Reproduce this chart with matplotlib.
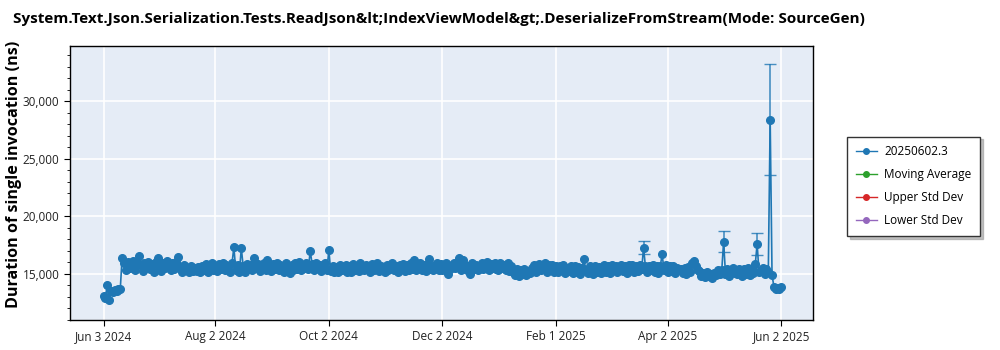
import pandas as pd
import matplotlib
matplotlib.use("Agg")
import matplotlib.pyplot as plt
import matplotlib.dates as mdates
from matplotlib.lines import Line2D
from matplotlib.ticker import MultipleLocator, FuncFormatter

plt.rcParams['font.family'] = ['Open Sans', 'DejaVu Sans']

title = "System.Text.Json.Serialization.Tests.ReadJson&lt;IndexViewModel&gt;.DeserializeFromStream(Mode: SourceGen)"
run_name = "20250602.3"

# one run per day, Jun 3 2024 .. Jun 2 2025
start_date = "2024-06-03"
durations = [
    13100, 12900, 14050, 12700, 13500, 13400, 13600, 13550, 13650, 13700,
    16400, 15900, 15350, 16050, 15500, 15850, 16100, 15300, 16000, 16550,
    15750, 15250, 15950, 15600, 16050, 15400, 15850, 15200, 16000, 16350,
    15600, 15250, 15950, 15500, 16100, 15700, 15300, 15900, 15450, 16050,
    16450, 15600, 15200, 15750, 15300, 15550, 15150, 15650, 15250, 15500,
    15250, 15600, 15150, 15700, 15350, 15850, 15200, 15650, 15900, 15300,
    15700, 15250, 15850, 15400, 15950, 15300, 15800, 15450, 15200, 15900,
    17320, 15350, 15800, 15200, 17230, 15650, 15150, 15850, 15400, 15750,
    15300, 16400, 15500, 15850, 15250, 15700, 15950, 15350, 16230, 15600,
    15250, 15850, 15400, 15950, 15300, 15800, 15550, 15200, 15900, 15450,
    15060, 15750, 15300, 15900, 15450, 16000, 15350, 15800, 15500, 15950,
    15400, 17020, 15850, 15300, 15950, 15500, 15800, 15250, 15700, 15900,
    15350, 17080, 15250, 15700, 15150, 15600, 15200, 15750, 15300, 15550,
    15800, 15200, 15650, 15150, 15850, 15350, 15700, 15250, 15900, 15400,
    15300, 15800, 15450, 15150, 15850, 15350, 15750, 15950, 15250, 15650,
    15450, 15150, 15800, 15300, 15700, 15900, 15350, 15650, 15200, 15800,
    15400, 15850, 15250, 15750, 15300, 15950, 15450, 16200, 15350, 15800,
    15900, 15300, 15750, 15250, 15850, 16300, 15400, 15300, 15800, 15950,
    15350, 15850, 15300, 15700, 15950, 14970, 15400, 15800, 15950, 15500,
    15850, 16400, 15350, 16200, 15750, 15300, 15700, 15000, 15900, 15450,
    15800, 15300, 15700, 15950, 15400, 15800, 16000, 15350, 15850, 15500,
    15900, 15450, 15300, 15950, 15500, 15800, 15350, 15900, 15250, 15700,
    15200, 14900, 15450, 14850, 15300, 14950, 15400, 14900, 15250, 15050,
    15500, 15750, 15200, 15650, 15850, 15300, 15700, 15900, 15150, 15750,
    15350, 15800, 15200, 15700, 15150, 15650, 15300, 15800, 15100, 15550,
    15250, 15700, 15050, 15650, 15200, 15600, 15000, 15550, 16270, 15300,
    15100, 15650, 15250, 14950, 15700, 15200, 15600, 15050, 15500, 15750,
    15200, 15650, 15100, 15800, 15300, 15700, 15150, 15600, 15750, 15250,
    15650, 15100, 15750, 15300, 15800, 15150, 15650, 15250, 15750, 15400,
    17280, 15650, 15200, 15700, 15300, 15800, 15200, 15650, 15100, 15700,
    16680, 15300, 15750, 15150, 15650, 15250, 15700, 15100, 15550, 15300,
    15450, 15050, 15550, 14950, 15600, 15150, 15900, 16150, 15700, 15300,
    15250, 14850, 15050, 14700, 15150, 14800, 15000, 14650, 15100, 14900,
    15350, 14950, 15300, 17800, 15000, 15450, 14850, 15350, 15500, 15050,
    14950, 15450, 15150, 14850, 15400, 15000, 15500, 14900, 15400, 15100,
    15840, 17600, 15150, 15350, 15500, 14950, 15450, 15200, 28380, 14900,
    13900, 13650, 13800, 13700, 13850,
]

# std dev of the runs that show visible error bars (day index -> std)
spread = {290: 575, 333: 925, 351: 925, 358: 4820}

tick_dates = ["2024-06-03", "2024-08-02", "2024-10-02", "2024-12-02",
              "2025-02-01", "2025-04-02", "2025-06-02"]
tick_labels = ["Jun 3 2024", "Aug 2 2024", "Oct 2 2024", "Dec 2 2024",
               "Feb 1 2025", "Apr 2 2025", "Jun 2 2025"]

dates = pd.date_range(start_date, periods=len(durations), freq="D")
blue = "#1f77b4"

fig = plt.figure(figsize=(10, 3.5), dpi=100)
ax = fig.add_axes([0.07, 0.086, 0.743, 0.783])
ax.set_facecolor("#e5ecf6")

ax.plot(dates, durations, color=blue, lw=1.2, marker="o", ms=5.5,
        mec=blue, mfc=blue, zorder=3)

err_idx = list(spread.keys())
ax.errorbar(dates[err_idx], [durations[i] for i in err_idx],
            yerr=[spread[i] for i in err_idx], fmt="none", ecolor=blue,
            elinewidth=1.2, capsize=4, capthick=1.0, alpha=0.8, zorder=2)

# empty series kept for the legend
ax.plot([], [], color="#2ca02c", lw=1, marker="o", ms=4)
ax.plot([], [], color="#d62728", lw=1, marker="o", ms=4)
ax.plot([], [], color="#9467bd", lw=1, marker="o", ms=4)

ax.set_ylim(11000, 34800)
ax.set_xlim(pd.Timestamp("2024-05-16"), pd.Timestamp("2025-06-19"))
ax.yaxis.set_major_locator(MultipleLocator(5000))
ax.yaxis.set_minor_locator(MultipleLocator(1000))
ax.yaxis.set_major_formatter(FuncFormatter(lambda v, p: f"{int(v):,}"))
ax.set_xticks([mdates.date2num(pd.Timestamp(d)) for d in tick_dates])
ax.set_xticklabels(tick_labels)

ax.grid(True, color="white", lw=1.2)
ax.set_axisbelow(True)
for s in ax.spines.values():
    s.set_color("black")
    s.set_linewidth(1.0)
ax.tick_params(axis="both", which="major", labelsize=8.5, length=4, color="black", labelcolor="#222222")
ax.tick_params(axis="y", which="minor", length=2.5, color="black")

fig.text(0.013, 0.947, title, fontsize=11, fontweight="bold", va="center", ha="left")
fig.text(0.014, 0.503, "Duration of single invocation (ns)", fontsize=11.6,
         fontweight="bold", rotation=90, va="center", ha="center")

handles = [
    Line2D([], [], color=blue, lw=1, marker="o", ms=4),
    Line2D([], [], color="#2ca02c", lw=1, marker="o", ms=4),
    Line2D([], [], color="#d62728", lw=1, marker="o", ms=4),
    Line2D([], [], color="#9467bd", lw=1, marker="o", ms=4),
]
labels = [run_name, "Moving Average", "Upper Std Dev", "Lower Std Dev"]
fig.legend(handles, labels, loc="upper left", bbox_to_anchor=(0.847, 0.61),
           fontsize=8.5, frameon=True, fancybox=False,
           shadow={"color": "#999999", "alpha": 0.6, "ox": 2, "oy": -2},
           edgecolor="#333333", handlelength=1.8, handletextpad=0.6,
           borderpad=0.75, labelspacing=0.85, borderaxespad=0)

fig.savefig("out.png", dpi=100)
